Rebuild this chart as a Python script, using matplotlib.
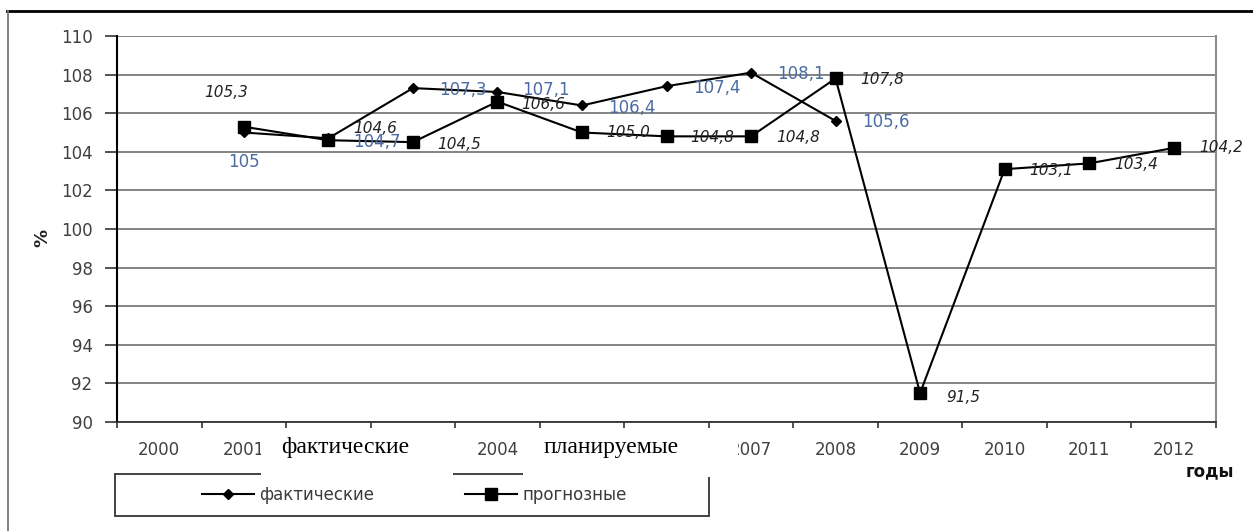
import numpy as np
import matplotlib.pyplot as plt
from matplotlib.patches import Rectangle
from matplotlib.lines import Line2D

# ---- data ----
years = ['2000', '2001', '2002', '2003', '2004', '2005', '2006',
         '2007', '2008', '2009', '2010', '2011', '2012']
actual_years = ['2001', '2002', '2003', '2004', '2005', '2006', '2007', '2008']
actual = [105.0, 104.7, 107.3, 107.1, 106.4, 107.4, 108.1, 105.6]
forecast_years = ['2001', '2002', '2003', '2004', '2005', '2006', '2007',
                  '2008', '2009', '2010', '2011', '2012']
forecast = [105.3, 104.6, 104.5, 106.6, 105.0, 104.8, 104.8, 107.8,
            91.5, 103.1, 103.4, 104.2]
y_ticks = [90, 92, 94, 96, 98, 100, 102, 104, 106, 108, 110]

# year labels hidden behind the caption boxes
covered_years = ['2002', '2003', '2005', '2006']

# label offsets in pixels (dx, dy)
actual_offsets = [(0, -30), (49, -4), (50, -2), (49, 2), (50, -2.5),
                  (50, -2), (50, -1), (50, -1)]
forecast_offsets = [(-18, 34), (47, 12), (46, -2), (46, -3), (46, 0),
                    (46, -1.5), (47, -1.5), (47, -1.5), (43, -4),
                    (47, -1), (47, -1.5), (47, 0)]

W, H = 1253, 531
fig = plt.figure(figsize=(W / 100, H / 100), dpi=100)
fig.patch.set_facecolor('white')

x0, x1, ytop, ybot = 117, 1216, 36, 422
ax = fig.add_axes([x0 / W, 1 - ybot / H, (x1 - x0) / W, (ybot - ytop) / H])

xa = [years.index(y) for y in actual_years]
xf = [years.index(y) for y in forecast_years]

ax.plot(xa, actual, color='black', lw=1.5, marker='D', ms=5.5,
        mfc='black', mec='black', zorder=4, label='фактические')
ax.plot(xf, forecast, color='black', lw=1.5, marker='s', ms=9,
        mfc='black', mec='black', zorder=5, label='прогнозные')

blue = '#4A6BA3'
for x, v, (dx, dy) in zip(xa, actual, actual_offsets):
    ax.annotate(f"{v:g}".replace('.', ','), (x, v), xytext=(dx, dy),
                textcoords='offset pixels', ha='center', va='center',
                fontsize=12, color=blue, family='DejaVu Sans', zorder=6)
for x, v, (dx, dy) in zip(xf, forecast, forecast_offsets):
    ax.annotate(f"{v:.1f}".replace('.', ','), (x, v), xytext=(dx, dy),
                textcoords='offset pixels', ha='center', va='center',
                fontsize=11, color='#222222', style='italic',
                family='DejaVu Sans', zorder=6)

ax.set_xlim(-0.5, len(years) - 0.5)
ax.set_ylim(90, 110)
ax.set_yticks(y_ticks)
ax.set_yticklabels([str(t) for t in y_ticks])
ax.set_xticks(range(len(years)))
ax.set_xticklabels(years)
for lbl in ax.get_xticklabels():
    if lbl.get_text() in covered_years:
        lbl.set_visible(False)
ax.set_xticks(np.arange(-0.5, len(years), 1), minor=True)
ax.tick_params(axis='x', which='major', length=0, pad=14,
               labelsize=12, labelcolor='#404040')
ax.tick_params(axis='x', which='minor', length=4.5, width=1.2,
               direction='out', color='#333333')
ax.tick_params(axis='y', which='major', length=8.6, width=1.2,
               direction='out', pad=9, labelsize=12, labelcolor='#404040',
               color='#333333')
ax.yaxis.grid(True, color='#6e6e6e', lw=1.2)
ax.set_axisbelow(True)

ax.spines['top'].set_visible(False)
ax.spines['left'].set_color('black')
ax.spines['left'].set_linewidth(1.5)
ax.spines['bottom'].set_color('#333333')
ax.spines['bottom'].set_linewidth(1.3)
ax.spines['right'].set_color('#8c8c8c')
ax.spines['right'].set_linewidth(1.5)

fig.text(42 / W, 1 - 238 / H, '%', rotation=90, ha='center', va='center',
         fontsize=13, fontweight='bold', color='#222222')
fig.text(1210 / W, 1 - 471 / H, 'годы', ha='center', va='center',
         fontsize=12, fontweight='bold', color='#111111')

# outer frame
fig.add_artist(Line2D([7 / W, 1], [1 - 11 / H, 1 - 11 / H], color='black',
                      lw=2, transform=fig.transFigure))
fig.add_artist(Line2D([8 / W, 8 / W], [1 - 11 / H, 0], color='#777777',
                      lw=1.3, transform=fig.transFigure))

# legend frame and entries
fig.add_artist(Rectangle((115 / W, 1 - 516 / H), (709 - 115) / W,
                         (516 - 474) / H, transform=fig.transFigure,
                         facecolor='white', edgecolor='#333333', lw=1.3,
                         zorder=3))
handles, labels = ax.get_legend_handles_labels()
leg_pos = [202, 465]
for h, l, px in zip(handles, labels, leg_pos):
    leg = fig.legend([h], [l], loc='center left',
                     bbox_to_anchor=(px / W, 1 - 495 / H),
                     frameon=False, borderpad=0, borderaxespad=0,
                     handlelength=3.1, handletextpad=0.35,
                     prop={'size': 12}, labelcolor='#3a3a3a')
    leg.set_zorder(5)

# white caption boxes over the axis labels
for bx0, bx1, txt, tx in [(261, 453, 'фактические', 345),
                          (523, 738, 'планируемые', 611)]:
    fig.add_artist(Rectangle((bx0 / W, 1 - 477 / H), (bx1 - bx0) / W,
                             (477 - 429) / H, transform=fig.transFigure,
                             facecolor='white', edgecolor='none', zorder=10))
    fig.text(tx / W, 1 - 453 / H, txt, ha='center', va='baseline',
             fontsize=17, family='Liberation Serif', color='black',
             zorder=11)

fig.savefig('out.png', dpi=100)
